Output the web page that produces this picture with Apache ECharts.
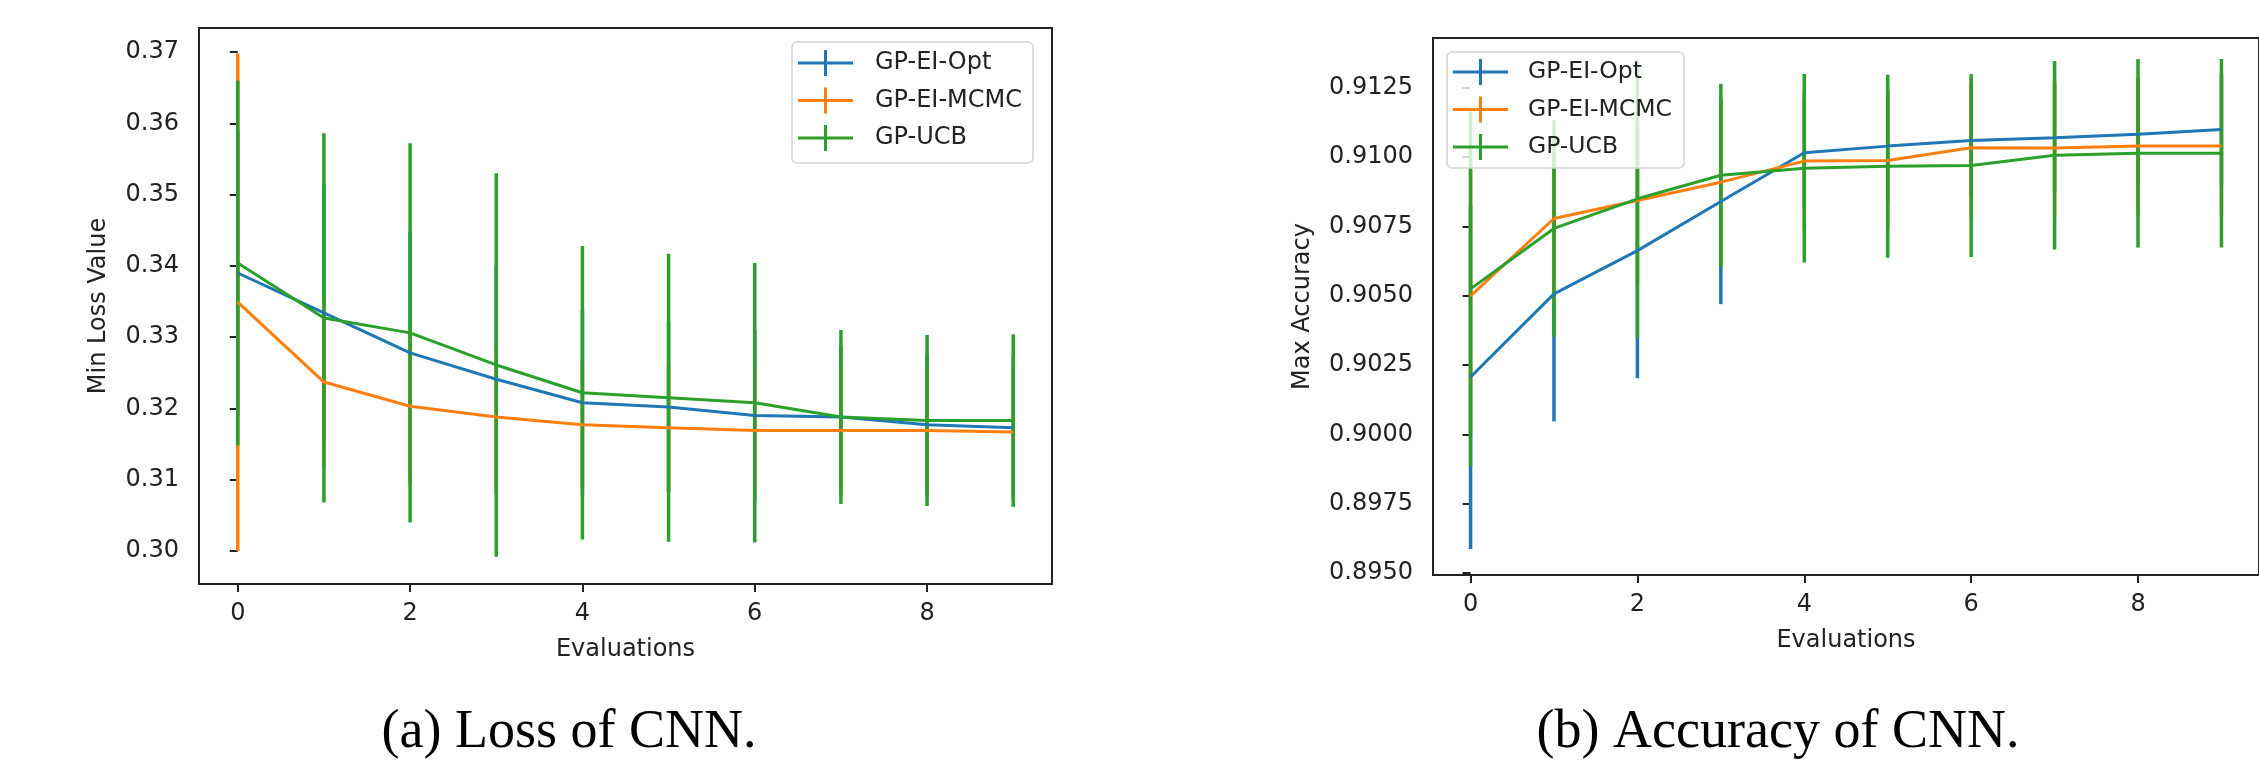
<!DOCTYPE html>
<html>
<head>
<meta charset="utf-8">
<script src="https://cdn.jsdelivr.net/npm/echarts@6/dist/echarts.min.js"></script>
<style>
  html, body { margin: 0; padding: 0; background: #fff; }
  #chart { width: 2259px; height: 761px; }
</style>
</head>
<body>
<div id="chart"></div>
<script>
// ---------- data ----------
const evaluations = [0, 1, 2, 3, 4, 5, 6, 7, 8, 9];
const seriesNames = ['GP-EI-Opt', 'GP-EI-MCMC', 'GP-UCB'];
const xTicks = [0, 2, 4, 6, 8];
const lossYTicks = [0.30, 0.31, 0.32, 0.33, 0.34, 0.35, 0.36, 0.37];
const accYTicks = [0.8950, 0.8975, 0.9000, 0.9025, 0.9050, 0.9075, 0.9100, 0.9125];

// (a) Loss of CNN: mean and half-width of error bar
const lossOptMean  = [0.3390, 0.3334, 0.3278, 0.3241, 0.3208, 0.3202, 0.3190, 0.3188, 0.3177, 0.3173];
const lossOptErr   = [0.0200, 0.0180, 0.0170, 0.0160, 0.0130, 0.0120, 0.0120, 0.0100, 0.0100, 0.0100];
const lossMcmcMean = [0.3349, 0.3237, 0.3203, 0.3188, 0.3177, 0.3173, 0.3169, 0.3169, 0.3169, 0.3167];
const lossMcmcErr  = [0.0349, 0.0120, 0.0110, 0.0100, 0.0090, 0.0090, 0.0090, 0.0090, 0.0090, 0.0090];
const lossUcbMean  = [0.3404, 0.3327, 0.3306, 0.3261, 0.3222, 0.3215, 0.3208, 0.3188, 0.3183, 0.3183];
const lossUcbErr   = [0.0256, 0.0259, 0.0266, 0.0269, 0.0206, 0.0202, 0.0196, 0.0122, 0.0120, 0.0121];

// (b) Accuracy of CNN
const accOptMean  = [0.90207, 0.90507, 0.90663, 0.90840, 0.91016, 0.91040, 0.91060, 0.91070, 0.91083, 0.91100];
const accOptErr   = [0.00620, 0.00460, 0.00460, 0.00370, 0.00200, 0.00200, 0.00200, 0.00200, 0.00200, 0.00200];
const accMcmcMean = [0.90500, 0.90779, 0.90844, 0.90910, 0.90986, 0.90988, 0.91034, 0.91033, 0.91040, 0.91040];
const accMcmcErr  = [0.00500, 0.00300, 0.00300, 0.00300, 0.00250, 0.00250, 0.00250, 0.00250, 0.00250, 0.00250];
const accUcbMean  = [0.90525, 0.90743, 0.90850, 0.90935, 0.90960, 0.90967, 0.90970, 0.91007, 0.91014, 0.91014];
const accUcbErr   = [0.00640, 0.00390, 0.00500, 0.00330, 0.00340, 0.00330, 0.00330, 0.00340, 0.00340, 0.00340];

// ---------- styling ----------
const colors = ['#1f77b4', '#ff7f0e', '#2ca02c'];
const FONT = 'DejaVu Sans';
const TXT = '#222';

function pts(means) { return evaluations.map((x, i) => [x, means[i]]); }
function bars(means, errs) { return evaluations.map((x, i) => [x, means[i] - errs[i], means[i] + errs[i]]); }

function errSeries(idx, means, errs, color) {
  return {
    type: 'custom', name: '_err', xAxisIndex: idx, yAxisIndex: idx,
    data: bars(means, errs), encode: { x: 0, y: [1, 2] },
    silent: true, clip: false, z: 2,
    renderItem: function (params, api) {
      const x = api.value(0);
      const a = api.coord([x, api.value(1)]);
      const b = api.coord([x, api.value(2)]);
      return { type: 'line', shape: { x1: a[0], y1: a[1], x2: b[0], y2: b[1] },
               style: { stroke: color, lineWidth: 3.5, fill: null } };
    }
  };
}
function lineSeries(idx, name, means, color) {
  return {
    type: 'line', name: name, xAxisIndex: idx, yAxisIndex: idx,
    data: pts(means), showSymbol: false, symbol: 'none', smooth: false,
    lineStyle: { color: color, width: 3 }, itemStyle: { color: color },
    silent: true, z: 3, emphasis: { disabled: true }
  };
}

function xAxisCfg(idx) {
  return {
    type: 'value', gridIndex: idx, min: -0.45, max: 9.45,
    name: 'Evaluations', nameLocation: 'middle', nameGap: 54,
    nameTextStyle: { fontFamily: FONT, fontSize: 24, color: TXT },
    axisLine: { show: false },
    splitLine: { show: false },
    axisTick: { show: true, inside: false, length: 8, customValues: xTicks, lineStyle: { color: TXT, width: 2 } },
    axisLabel: { show: true, margin: 18, customValues: xTicks, fontFamily: FONT, fontSize: 24, color: TXT }
  };
}
function yAxisCfg(idx, name, min, max, ticks, digits, gap) {
  return {
    type: 'value', gridIndex: idx, min: min, max: max,
    name: name, nameLocation: 'middle', nameGap: gap, nameRotate: 90,
    nameTextStyle: { fontFamily: FONT, fontSize: 24, color: TXT },
    axisLine: { show: false },
    splitLine: { show: false },
    axisTick: { show: true, inside: false, length: 8, customValues: ticks, lineStyle: { color: TXT, width: 2 } },
    axisLabel: { show: true, margin: 20, customValues: ticks, fontFamily: FONT, fontSize: 24, color: TXT,
                 formatter: v => Number(v).toFixed(digits) }
  };
}

const iconPath = 'path://M0 11.5 L55 11.5 L55 14.5 L0 14.5 Z M26 0 L29 0 L29 26 L26 26 Z';
function legendCfg(left, top, padding, textPad, fontSize) {
  return {
    show: true, orient: 'vertical', align: 'left', left: left, top: top,
    padding: padding, itemWidth: 55, itemHeight: 26, itemGap: 11.5,
    selectedMode: false,
    backgroundColor: 'rgba(255,255,255,0.8)',
    borderColor: '#d4d4d4', borderWidth: 1.5, borderRadius: 5,
    icon: iconPath,
    itemStyle: { borderWidth: 0 },
    textStyle: { fontFamily: FONT, fontSize: fontSize, color: TXT, lineHeight: 26, padding: [0, 0, 0, textPad] },
    data: seriesNames.map((n, i) => ({ name: n, icon: iconPath, itemStyle: { color: colors[i], borderWidth: 0 } }))
  };
}

const chart = echarts.init(document.getElementById('chart'), null, { renderer: 'canvas' });
chart.setOption({
  animation: false,
  backgroundColor: '#ffffff',
  grid: [
    { left: 199, top: 28, width: 853, height: 556, show: true, borderColor: TXT, borderWidth: 2, backgroundColor: 'transparent' },
    { left: 1433, top: 38, width: 832, height: 537, show: true, borderColor: TXT, borderWidth: 2, backgroundColor: 'transparent' }
  ],
  xAxis: [xAxisCfg(0), xAxisCfg(1)],
  yAxis: [
    yAxisCfg(0, 'Min Loss Value', 0.29537, 0.37337, lossYTicks, 2, 88),
    yAxisCfg(1, 'Max Accuracy', 0.89493, 0.91430, accYTicks, 4, 118)
  ],
  legend: [
    legendCfg(792, 42, [8, 11, 12, 6], 17, 24),
    legendCfg(1447, 52, [7, 12, 8, 6], 15, 23.5)
  ],
  graphic: [
    { type: 'text', x: 569, y: 733, silent: true,
      style: { text: '(a) Loss of CNN.', x: 0, y: 0, font: '54px "Liberation Serif", "DejaVu Serif", serif',
               fill: '#000', align: 'center', verticalAlign: 'middle' } },
    { type: 'text', x: 1778, y: 733, silent: true,
      style: { text: '(b) Accuracy of CNN.', x: 0, y: 0, font: '54px "Liberation Serif", "DejaVu Serif", serif',
               fill: '#000', align: 'center', verticalAlign: 'middle' } }
  ],
  series: [
    errSeries(0, lossOptMean, lossOptErr, colors[0]),
    errSeries(0, lossMcmcMean, lossMcmcErr, colors[1]),
    errSeries(0, lossUcbMean, lossUcbErr, colors[2]),
    lineSeries(0, seriesNames[0], lossOptMean, colors[0]),
    lineSeries(0, seriesNames[1], lossMcmcMean, colors[1]),
    lineSeries(0, seriesNames[2], lossUcbMean, colors[2]),
    errSeries(1, accOptMean, accOptErr, colors[0]),
    errSeries(1, accMcmcMean, accMcmcErr, colors[1]),
    errSeries(1, accUcbMean, accUcbErr, colors[2]),
    lineSeries(1, seriesNames[0], accOptMean, colors[0]),
    lineSeries(1, seriesNames[1], accMcmcMean, colors[1]),
    lineSeries(1, seriesNames[2], accUcbMean, colors[2])
  ]
});
</script>
</body>
</html>
